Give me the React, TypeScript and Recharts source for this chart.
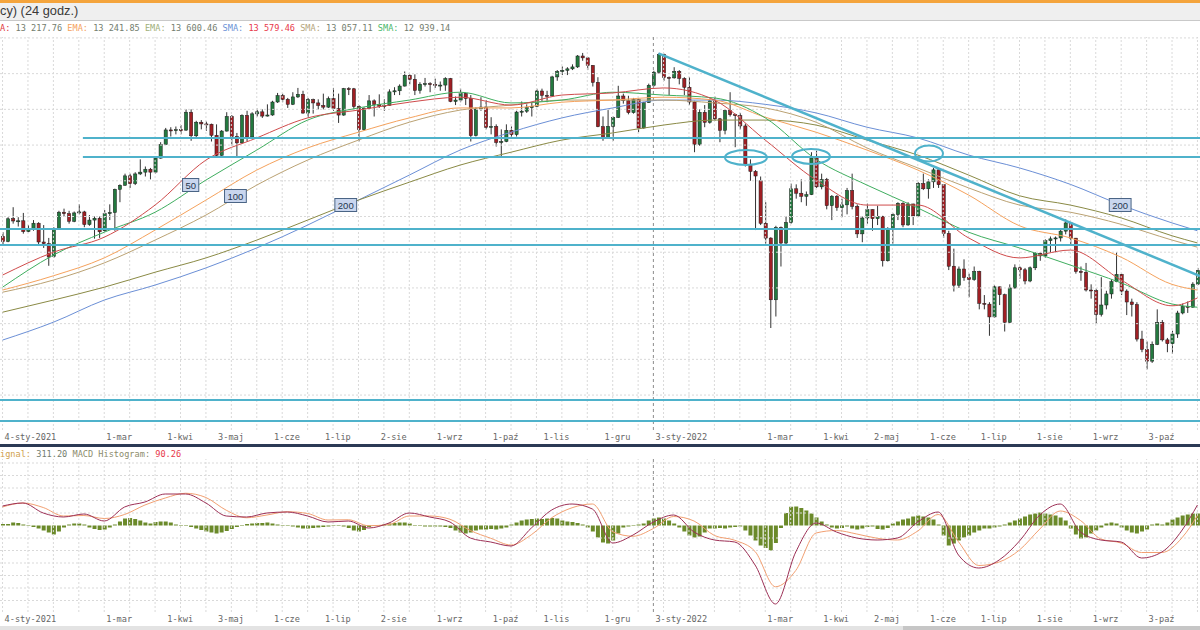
import React from "react";
import { ComposedChart, Bar, Line, XAxis, YAxis, ReferenceLine, ReferenceDot } from "recharts";

// 2-session candles, Jan 2021 - Oct 2022: [open, high, low, close]
const candles: number[][] = [
  [13720,13780,13600,13650],[13650,13990,13640,13968],[13970,14130,13900,13937],[13937,13990,13860,13940],
  [13940,14050,13760,13788],[13790,13880,13780,13815],[13815,13950,13800,13906],[13906,13920,13600,13643],
  [13643,13880,13560,13620],[13620,13700,13310,13432],[13440,13850,13420,13835],[13835,14080,13820,14060],
  [14060,14110,14000,14040],[14040,14080,13900,13933],[13933,14070,13920,14050],[14050,14170,14030,14064],
  [14064,14080,13850,13887],[13887,14020,13870,13950],[13950,14000,13690,13976],[13976,14000,13700,13786],
  [13800,14090,13790,14039],[14040,14170,13950,14056],[14056,14390,13800,14380],[14380,14450,14200,14437],
  [14437,14600,14430,14569],[14569,14600,14400,14461],[14461,14620,14440,14596],[14596,14800,14580,14621],
  [14621,14700,14560,14662],[14662,14680,14520,14621],[14621,14830,14600,14817],[14817,15040,14810,15008],
  [15008,15240,15000,15212],[15212,15250,15120,15202],[15202,15260,15150,15215],[15215,15280,15150,15209],
  [15209,15500,15200,15460],[15460,15500,15060,15130],[15130,15340,15100,15320],[15320,15350,15220,15296],
  [15296,15330,15200,15292],[15292,15300,15050,15136],[15136,15290,14820,14856],[14856,15210,14850,15196],
  [15196,15460,15190,15400],[15400,15420,14990,15120],[15120,15170,14820,15031],[15031,15430,15020,15416],
  [15416,15480,15050,15113],[15113,15460,15100,15437],[15437,15510,15400,15465],[15465,15500,15380,15406],
  [15406,15570,15400,15421],[15421,15620,15410,15603],[15603,15730,15590,15693],[15693,15720,15600,15640],
  [15640,15660,15520,15571],[15571,15740,15560,15674],[15674,15800,15660,15711],[15711,15760,15440,15448],
  [15448,15660,15380,15636],[15636,15650,15440,15590],[15590,15640,15500,15554],[15554,15720,15500,15531],
  [15531,15680,15520,15650],[15650,15800,15480,15511],[15511,15720,15310,15420],[15420,15800,15410,15790],
  [15790,15810,15700,15788],[15788,15800,15500,15540],[15540,15560,15050,15216],[15216,15530,15200,15514],
  [15514,15700,15500,15619],[15619,15640,15400,15570],[15570,15710,15520,15544],[15544,15640,15480,15555],
  [15555,15780,15550,15745],[15745,15810,15700,15760],[15760,15850,15700,15826],[15826,16030,15820,15977],
  [15977,15990,15850,15921],[15921,15990,15700,15765],[15765,15880,15720,15852],[15852,15940,15820,15860],
  [15860,15880,15740,15851],[15851,15930,15800,15835],[15835,15890,15760,15840],[15840,15950,15760,15932],
  [15932,15940,15600,15610],[15610,15680,15560,15630],[15630,15790,15600,15722],[15722,15730,15560,15652],
  [15652,15700,15050,15132],[15132,15530,15120,15506],[15506,15670,15480,15532],[15532,15630,15220,15249],
  [15249,15390,15150,15260],[15260,15290,14980,15036],[15036,15220,14820,15050],[15050,15290,15040,15206],
  [15206,15260,15100,15147],[15147,15480,15120,15462],[15462,15610,15400,15474],[15474,15570,15450,15523],
  [15523,15600,15400,15543],[15543,15790,15530,15757],[15757,15790,15610,15696],[15696,15760,15600,15688],
  [15688,15970,15680,15954],[15954,16050,15900,16030],[16030,16100,15980,16046],[16046,16090,15980,16067],
  [16067,16130,16050,16094],[16094,16260,16080,16247],[16247,16290,16180,16221],[16221,16230,16050,16115],
  [16115,16120,15820,15878],[15878,15950,15250,15257],[15257,15400,15060,15100],[15100,15490,15090,15263],
  [15263,15400,15060,15387],[15387,15830,15380,15687],[15687,15720,15580,15623],[15623,15690,15430,15454],
  [15454,15660,15440,15636],[15636,15650,15180,15239],[15239,15600,15230,15593],[15593,15860,15590,15837],
  [15837,16040,15820,16020],[16020,16285,16000,16271],[16271,16280,15900,15947],[15947,15960,15700,15941],
  [15941,16090,15930,16031],[16031,16050,15850,15933],[15933,15950,15700,15809],[15809,15950,15560,15603],
  [15603,15620,14900,15011],[15011,15500,14990,15459],[15459,15560,15250,15318],[15318,15650,15300,15619],
  [15619,15680,15340,15368],[15368,15380,15040,15207],[15207,15500,15150,15482],[15482,15740,15400,15425],
  [15425,15440,14970,15412],[15412,15450,15220,15268],[15268,15300,14700,14731],[14731,14800,14500,14631],
  [14631,14650,13810,14567],[14500,14560,13880,13905],[13905,14200,13620,13698],[13698,13710,12439,12834],
  [12834,13870,12600,13848],[13848,13860,13300,13628],[13628,14000,13600,13917],[13917,14460,13900,14388],
  [14388,14450,14250,14326],[14326,14520,14200,14283],[14283,14350,14150,14306],[14306,14900,14300,14820],
  [14820,14920,14400,14415],[14415,14600,14380,14518],[14518,14540,14100,14152],[14152,14300,13950,14284],
  [14284,14300,14080,14124],[14124,14250,13990,14163],[14163,14400,14030,14363],[14363,14600,14100,14142],
  [14142,14170,13700,13757],[13757,14000,13640,13979],[13979,14180,13900,14098],[14098,14100,13800,13970],
  [13970,14150,13880,14001],[14001,14010,13300,13380],[13380,13850,13370,13828],[13828,14050,13620,14027],
  [14027,14200,13950,14185],[14185,14200,13850,13882],[13882,14200,13870,14175],[14175,14180,13880,14008],
  [14008,14480,14000,14462],[14462,14600,14370,14388],[14388,14520,14250,14485],[14485,14680,14400,14653],
  [14653,14660,14400,14445],[14445,14450,13700,13762],[13762,13800,13250,13304],[13304,13550,12950,13038],
  [13038,13300,13000,13265],[13265,13400,13100,13145],[13145,13200,12870,13118],[13118,13300,13100,13231],
  [13231,13240,12700,12784],[12784,12900,12700,12773],[12773,12800,12330,12594],[12594,13040,12580,13015],
  [13015,13020,12760,12905],[12905,12920,12390,12519],[12519,13050,12510,13000],[13000,13330,12990,13282],
  [13282,13300,13130,13254],[13254,13280,13050,13097],[13097,13300,13080,13282],[13282,13500,13250,13484],
  [13484,13500,13380,13449],[13449,13680,13420,13662],[13662,13720,13500,13687],[13687,13720,13500,13700],
  [13700,13830,13650,13795],[13795,13960,13750,13910],[13910,13920,13600,13697],[13697,13700,13200,13230],
  [13230,13300,13100,13220],[13220,13350,12950,12971],[12971,13050,12850,12961],[12961,12990,12500,12630],
  [12630,13150,12600,12761],[12761,12960,12700,12916],[12916,13120,12850,13088],[13088,13500,13080,13189],
  [13189,13200,12900,12956],[12956,12980,12620,12803],[12803,12850,12600,12767],[12767,12800,12250,12284],
  [12284,12400,12100,12140],[12140,12250,11860,11975],[11975,12250,11950,12209],[12209,12700,12200,12517],
  [12517,12550,12250,12273],[12273,12300,12100,12219],[12219,12400,12080,12355],[12355,12680,12300,12649],
  [12649,12780,12630,12741],[12741,12810,12650,12731],[12731,13080,12720,13053],[13053,13280,13040,13243],
];

// moving averages, sampled every 10 candles
const maIdx = [0,10,20,30,40,50,60,70,80,90,100,110,120,130,140,150,160,170,180,190,200,210,220,230,235];
const ema50 = [13180,13500,13710,14160,14790,15100,15380,15490,15600,15670,15560,15700,15730,15800,15630,15070,14510,14160,14160,13700,13420,13530,13110,12750,12860];
const sma50 = [13010,13460,13780,14060,14510,14930,15350,15520,15630,15740,15590,15630,15740,15700,15660,15380,14800,14440,14120,13780,13560,13320,13070,12775,12730];
const ema100 = [12970,13170,13420,13810,14230,14650,14960,15180,15380,15520,15520,15600,15630,15670,15630,15390,15180,14930,14650,14300,13870,13700,13430,13050,12970];
const sma100 = [12940,13110,13350,13670,14020,14440,14790,15070,15320,15490,15560,15630,15630,15630,15590,15520,15320,14960,14680,14400,14160,14060,13890,13670,13570];
const ema200 = [12660,12830,13010,13220,13420,13670,13950,14230,14480,14720,14900,15070,15170,15280,15350,15350,15280,15070,14860,14580,14290,14160,13980,13730,13630];
const sma200 = [12270,12520,12830,13040,13280,13560,13880,14230,14580,14930,15180,15380,15520,15630,15630,15570,15450,15250,15100,14860,14680,14450,14160,13910,13800];

// MACD panel
const macdIdx = [0,4,8,12,16,20,24,28,32,36,40,44,48,52,56,60,64,68,72,76,80,84,88,92,96,100,104,108,112,116,120,124,128,132,136,140,144,148,152,156,160,164,168,172,176,180,184,188,192,196,200,204,208,212,216,220,224,228,232,235];
const macd = [156,180,100,68,92,36,148,188,252,252,180,76,68,100,108,76,28,36,-20,20,100,68,28,-100,-132,-164,-20,124,172,132,-140,-76,28,84,-52,-116,-132,-316,-628,-212,20,-52,-100,-116,-100,28,108,-236,-340,-276,-124,84,172,-52,-116,-132,-260,-212,-36,164];
const signal = [148,180,144,76,80,56,88,164,220,258,224,122,62,84,110,96,44,46,-2,8,76,76,50,-40,-102,-156,-74,62,142,172,-50,-86,-24,72,36,-80,-118,-208,-490,-360,-60,-40,-68,-102,-116,-44,88,-130,-320,-292,-196,-28,116,40,-108,-140,-216,-216,-96,80];
const hist = [
  12,12,24,20,8,-4,-12,-24,-40,-56, -72,-48,-16,8,16,16,8,-16,-28,-36,
  -32,-16,8,32,56,60,52,40,24,16, 28,32,32,24,8,4,-4,-12,-24,-36,
  -48,-56,-64,-56,-44,-28,-12,4,12,16, 20,20,24,16,8,4,-4,-8,-16,-24,
  -24,-20,-16,-12,-8,-4,-4,-8,-20,-40, -48,-36,-12,-4,4,8,16,20,24,24,
  16,4,-4,-8,-8,-8,-8,-12,-20,-40, -56,-64,-56,-40,-32,-32,-28,-32,-24,-16,
  8,24,40,48,52,56,52,56,60,56, 40,32,28,20,8,-16,-48,-96,-136,-144,
  -120,-64,-16,-8,4,8,16,40,56,64, 56,40,16,-16,-48,-80,-96,-88,-56,-24,
  -24,-20,-24,-16,-12,-8,-40,-80,-120,-160, -180,-200,-140,-20,100,150,152,140,120,96,
  64,32,8,-16,-24,-20,-8,-24,-32,-24, -12,-8,-28,-32,-20,16,32,48,56,72,
  80,72,64,48,8,-80,-160,-144,-120,-96, -80,-56,-40,-24,-24,-16,-8,8,24,40,
  56,72,88,96,104,96,88,80,64,40, -24,-72,-104,-96,-64,-40,-16,16,24,16,
  -16,-40,-56,-64,-48,-32,8,16,8,24, 48,64,80,88,96,96,
];

const labelIdx = [0,20,32,42,53,63,74,85,96,106,118,128,150,161,171,182,192,203,214,225];
const labelText = ["4-sty-2021","1-mar","1-kwi","3-maj","1-cze","1-lip","2-sie","1-wrz","1-paź","1-lis","1-gru","3-sty-2022","1-mar","1-kwi","2-maj","1-cze","1-lip","1-sie","1-wrz","3-paź"];

// support / resistance levels and where they start
const levels = [15099,14833,13825,13601,11431,11137];
const levelFrom = [15.8,15.8,-0.5,-0.5,-0.5,-0.5];
const trendFrom = { x: 129, y: 16285 };
const trendTo = { x: 235.5, y: 13167 };
const circles = [{ x: 146.2, y: 14826, rx: 21, ry: 7.5 }, { x: 159, y: 14840, rx: 19, ry: 7.5 }, { x: 182.2, y: 14882, rx: 14, ry: 8 }];
const maTags = [{ x: 37, y: 14441, t: "50" }, { x: 45.8, y: 14287, t: "100" }, { x: 67.5, y: 14161, t: "200" }, { x: 219.8, y: 14161, t: "200" }];

const priceGrid = [11500,12000,12500,13000,13500,14000,14500,15000,15500,16000,16500];
const macdGrid = [-600,-500,-400,-300,-200,-100,100,200,300,400,500];
const timeGrid = Array.from({ length: 48 }, (_, k) => k * 5);

const rows: any[] = candles.map(([o, h, l, c], i) => ({ i, range: [l, h], o, h, l, c, hist: hist[i] }));
maIdx.forEach((ix, k) => {
  Object.assign(rows[ix], { ema50: ema50[k], sma50: sma50[k], ema100: ema100[k], sma100: sma100[k], ema200: ema200[k], sma200: sma200[k] });
});
macdIdx.forEach((ix, k) => {
  rows[ix].macd = macd[k];
  rows[ix].signal = signal[k];
});

const MONO = '"DejaVu Sans Mono", "Liberation Mono", monospace';
const TEAL = "#4fb2cb";
const GRID = "#d9d9d9";

const Candle = (p: any) => {
  const { x, y, width, height, payload } = p;
  if (!payload || height == null) return null;
  const top = Math.min(y, y + height);
  const hh = Math.abs(height);
  const k = payload.h === payload.l ? 0 : hh / (payload.h - payload.l);
  const cx = x + width / 2;
  const yo = top + (payload.h - payload.o) * k;
  const yc = top + (payload.h - payload.c) * k;
  const up = payload.c >= payload.o;
  return (
    <g>
      <line x1={cx} x2={cx} y1={top} y2={top + hh} stroke="#1b1b1b" strokeWidth={0.9} />
      <rect x={cx - 1.6} y={Math.min(yo, yc)} width={3.2} height={Math.max(1, Math.abs(yc - yo))}
        fill={up ? "#23793f" : "#a01f24"} stroke="#1b1b1b" strokeWidth={0.5} />
    </g>
  );
};

const DateTick = (p: any) => {
  const k = labelIdx.indexOf(p.payload.value);
  if (k < 0) return null;
  return (
    <text x={p.x + 2} y={p.y + 7} dominantBaseline="central" fontFamily={MONO} fontSize={8.6} fill="#666">
      {labelText[k]}
    </text>
  );
};

const timeLines = () => [
  ...timeGrid.map((g) => (
    <ReferenceLine key={"t" + g} x={g} stroke={GRID} strokeDasharray="2 2" />
  )),
  <ReferenceLine key="year" x={128} stroke="#8c8c8c" strokeDasharray="3 3" />,
];

const xAxis = (
  <XAxis dataKey="i" type="number" domain={[-0.5, 235.5]} ticks={labelIdx} interval={0}
    allowDataOverflow axisLine={false} tickLine={false} tickSize={0} tickMargin={0} height={15}
    tick={(p: any) => <DateTick {...p} />} />
);

const maLine = (key: string, color: string) => (
  <Line key={key} dataKey={key} type="monotone" stroke={color} strokeWidth={1} dot={false}
    activeDot={false} connectNulls isAnimationActive={false} />
);

const legendSpan = (label: string, lc: string, value: string, vc = "#737d6e") => (
  <span>
    <span style={{ color: lc }}>{label}</span>
    <span style={{ color: vc }}>{value}</span>
  </span>
);

const legendBox: React.CSSProperties = {
  position: "absolute", left: 0, height: 11, lineHeight: "11px", fontFamily: MONO, fontSize: 8.6, whiteSpace: "pre",
};

export default function App() {
  return (
    <div style={{ position: "fixed", left: 0, top: 0, width: 1200, height: 630, overflow: "hidden", background: "#fff" }}>
      <div style={{ position: "absolute", left: 0, top: 0, width: 1200, height: 3, background: "#f4a43c" }} />
      <div style={{ position: "absolute", left: 0, top: 3, width: 1200, height: 17, background: "#efefef", borderBottom: "1px solid #c9c9c9" }}>
        <span style={{ position: "absolute", left: 0, top: 0, fontFamily: '"Liberation Sans", Arial, sans-serif', fontSize: 12.8, color: "#3a3a3a", whiteSpace: "pre" }}>
          cy) (24 godz.)
        </span>
      </div>

      <div style={{ ...legendBox, top: 23 }}>
        {legendSpan("A:", "#e0393e", " 13 217.76 ")}
        {legendSpan("EMA:", "#f5a25d", " 13 241.85 ")}
        {legendSpan("EMA:", "#9fb07a", " 13 600.46 ")}
        {legendSpan("SMA:", "#6b93d6", " 13 579.46 ", "#e8394a")}
        {legendSpan("SMA:", "#b6a57c", " 13 057.11 ")}
        {legendSpan("SMA:", "#4cb86a", " 12 939.14")}
      </div>

      <div style={{ position: "absolute", left: 0, top: 37 }}>
        <ComposedChart width={1200} height={408} data={rows} margin={{ top: 0, right: 0, bottom: 0, left: 0 }}>
          {xAxis}
          <YAxis hide type="number" domain={[11011, 16513]} allowDataOverflow />
          {priceGrid.map((v) => (
            <ReferenceLine key={"p" + v} y={v} stroke={GRID} strokeDasharray="2 2" />
          ))}
          {timeLines()}
          <Bar dataKey="range" barSize={4} shape={<Candle />} isAnimationActive={false} />
          {maLine("sma200", "#6b8fd6")}
          {maLine("ema200", "#8a8a45")}
          {maLine("sma100", "#bba273")}
          {maLine("ema100", "#f5a25d")}
          {maLine("sma50", "#3fae5f")}
          {maLine("ema50", "#cf4b4b")}
          {levels.map((v, k) => (
            <ReferenceLine key={"l" + k} segment={[{ x: levelFrom[k], y: v }, { x: 235.5, y: v }]} stroke={TEAL} strokeWidth={2} />
          ))}
          <ReferenceLine segment={[trendFrom, trendTo]} stroke={TEAL} strokeWidth={2.5} />
          {circles.map((c, k) => (
            <ReferenceDot key={"c" + k} x={c.x} y={c.y} r={1}
              shape={(p: any) => <ellipse cx={p.cx} cy={p.cy} rx={c.rx} ry={c.ry} fill="none" stroke={TEAL} strokeWidth={2} />} />
          ))}
          {maTags.map((m, k) => (
            <ReferenceDot key={"m" + k} x={m.x} y={m.y} r={1}
              shape={(p: any) => {
                const w = m.t.length * 5.6 + 5;
                return (
                  <g>
                    <rect x={p.cx - w / 2} y={p.cy - 6.5} width={w} height={13} fill="#c9d6ee" stroke="#4a6485" strokeWidth={1} />
                    <text x={p.cx} y={p.cy + 0.5} textAnchor="middle" dominantBaseline="central" fontFamily='"Liberation Sans", Arial, sans-serif' fontSize={9.5} fill="#26364f">
                      {m.t}
                    </text>
                  </g>
                );
              }} />
          ))}
        </ComposedChart>
      </div>

      <div style={{ position: "absolute", left: 0, top: 444, width: 1200, height: 3, background: "#2b3a55" }} />

      <div style={{ ...legendBox, top: 449 }}>
        <span style={{ color: "#d0a04c" }}>ignal:</span>
        <span style={{ color: "#737d6e" }}> 311.20 </span>
        <span style={{ color: "#8c8c6c" }}>MACD Histogram:</span>
        <span style={{ color: "#e8394a" }}> 90.26</span>
      </div>

      <div style={{ position: "absolute", left: 0, top: 459 }}>
        <ComposedChart width={1200} height={168} data={rows} margin={{ top: 0, right: 0, bottom: 0, left: 0 }}>
          {xAxis}
          <YAxis hide type="number" domain={[-692, 532]} allowDataOverflow />
          {macdGrid.map((v) => (
            <ReferenceLine key={"g" + v} y={v} stroke={GRID} strokeDasharray="2 2" />
          ))}
          {timeLines()}
          <Bar dataKey="hist" barSize={4} fill="#6b8a2a" isAnimationActive={false} />
          <Line dataKey="signal" type="monotone" stroke="#f2a072" strokeWidth={1} dot={false} activeDot={false} connectNulls isAnimationActive={false} />
          <Line dataKey="macd" type="monotone" stroke="#9c2f55" strokeWidth={1} dot={false} activeDot={false} connectNulls isAnimationActive={false} />
        </ComposedChart>
      </div>

      <div style={{ position: "absolute", left: 0, top: 626, width: 1200, height: 4, background: "#e3e3e3" }} />
      <div style={{ position: "absolute", left: 903, top: 626, width: 297, height: 4, background: "#c6c6c6" }} />
    </div>
  );
}
